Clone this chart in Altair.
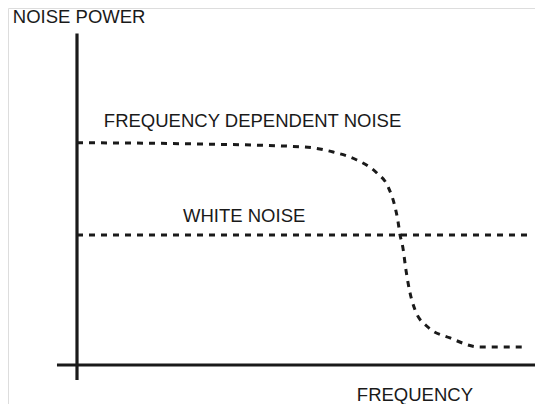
import altair as alt
import pandas as pd

# Frequency-dependent noise curve (frequency units, power units)
fd_freq = [0, 27, 50, 56.3, 61.5, 65.9, 68.4, 69.9, 70.5, 71.0, 71.6, 72.3, 73.2, 74.3, 77.1, 82.0, 88.6, 98.9]
fd_power = [171, 170, 167.7, 163.8, 157.7, 147.7, 136.9, 121.5, 111.5, 100, 90.8, 73, 55.4, 42.3, 29.2, 20.8, 13.8, 13.8]

# White noise level
wn_freq = [0, 100]
wn_power = [100, 100]

# Axis lines
yaxis_freq = [0, 0]
yaxis_power = [-11.5, 255]
xaxis_freq = [-4.4, 101]
xaxis_power = [0, 0]

# Labels
label_text = ["NOISE POWER", "FREQUENCY DEPENDENT NOISE", "WHITE NOISE", "FREQUENCY"]
label_freq = [-14.1, 5.9, 23.3, 61.5]
label_power = [263.3, 183, 110, -27.7]

W, H = 527, 396
X_DOMAIN = [(8 - 77) / 4.55, (8 + W - 77) / 4.55]
Y_DOMAIN = [(357 - H) / 1.3, 357 / 1.3]
xs = alt.Scale(domain=X_DOMAIN, range=[0, W])
ys = alt.Scale(domain=Y_DOMAIN, range=[H, 0])

fd = pd.DataFrame({"f": fd_freq, "p": fd_power})
wn = pd.DataFrame({"f": wn_freq, "p": wn_power})
ya = pd.DataFrame({"f": yaxis_freq, "p": yaxis_power})
xa = pd.DataFrame({"f": xaxis_freq, "p": xaxis_power})
lab = pd.DataFrame({"t": label_text, "f": label_freq, "p": label_power})

enc = dict(
    x=alt.X("f:Q", scale=xs, axis=None),
    y=alt.Y("p:Q", scale=ys, axis=None),
)

axis_y = alt.Chart(ya).mark_line(color="#1a1a1a", strokeWidth=3.2, clip=False).encode(order=alt.Order("p:Q"), **enc)
axis_x = alt.Chart(xa).mark_line(color="#1a1a1a", strokeWidth=3.2, clip=False).encode(**enc)

dashed = dict(color="#1a1a1a", strokeWidth=3, strokeDash=[6, 6], clip=False)
fd_line = alt.Chart(fd).mark_line(interpolate="monotone", **dashed).encode(**enc)
wn_line = alt.Chart(wn).mark_line(**dashed).encode(**enc)

labels = alt.Chart(lab).mark_text(
    align="left", baseline="alphabetic", font="Liberation Sans", fontSize=18.5, color="#1a1a1a", clip=False
).encode(text="t:N", **enc)

chart = alt.layer(axis_y, axis_x, wn_line, fd_line, labels).properties(
    width=W, height=H, padding=0, autosize=alt.AutoSizeParams(type="none")
).configure_view(stroke="transparent").configure(background="transparent")

chart.save("out.html", embed_options={"renderer": "svg", "actions": False})
